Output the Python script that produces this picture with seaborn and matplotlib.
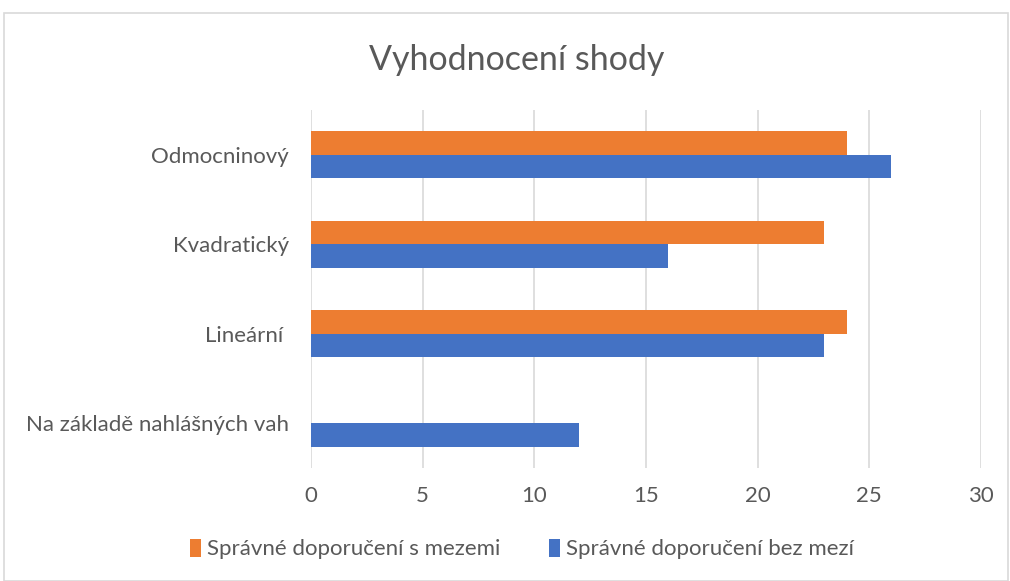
import numpy as np
import pandas as pd
import seaborn as sns
import matplotlib.pyplot as plt
from matplotlib.patches import Rectangle

# data
categories = ["Odmocninový", "Kvadratický", "Lineární ", "Na základě nahlášných vah"]
series_names = ["Správné doporučení s mezemi", "Správné doporučení bez mezí"]
s_mezemi = [24, 23, 24, np.nan]
bez_mezi = [26, 16, 23, 12]
x_ticks = [0, 5, 10, 15, 20, 25, 30]

colors = ["#ED7D31", "#4472C4"]
text_color = "#595959"
grid_color = "#D9D9D9"

df = pd.DataFrame({
    "kategorie": categories * 2,
    "hodnota": s_mezemi + bez_mezi,
    "serie": [series_names[0]] * len(categories) + [series_names[1]] * len(categories),
})

sns.set_style("white")
plt.rcParams["font.family"] = ["Lato", "DejaVu Sans"]

fig = plt.figure(figsize=(10.1, 5.81), dpi=100)
ax = fig.add_axes([0.308, 0.1945, 0.663, 0.6162])

sns.barplot(data=df, x="hodnota", y="kategorie", hue="serie",
            hue_order=series_names, order=categories, palette=colors,
            orient="h", width=0.52, gap=0, ax=ax, legend=True,
            saturation=1, edgecolor="none")

# axes styling
ax.set_xlim(0, 30)
ax.set_ylim(3.5, -0.5)
ax.set_xticks(x_ticks)
ax.set_xticklabels([str(t) for t in x_ticks], fontsize=16, color=text_color)
ax.tick_params(axis="y", labelsize=16, labelcolor=text_color, length=0, pad=16)
ax.tick_params(axis="x", length=0, pad=13)
ax.set_xlabel("")
ax.set_ylabel("")
ax.grid(axis="x", color=grid_color, linewidth=1.2)
ax.set_axisbelow(True)
for s in ax.spines.values():
    s.set_visible(False)

# title
fig.text(0.512, 0.897, "Vyhodnocení shody", ha="center", va="center",
         fontsize=24.5, color=text_color)

# legend at the bottom
handles, labels = ax.get_legend_handles_labels()
ax.legend_.remove()
fig.legend(handles, labels, loc="center", bbox_to_anchor=(0.517, 0.055),
           ncol=2, frameon=False, fontsize=16, labelcolor=text_color,
           handlelength=0.5, handleheight=0.9, handletextpad=0.25,
           columnspacing=2.2)

# chart border
fig.patches.append(Rectangle((4 / 1010, 0), 1 - 6 / 1010, 1 - 13 / 581,
                             transform=fig.transFigure, fill=False,
                             edgecolor=grid_color, linewidth=1.2))

plt.savefig("out.png", dpi=100)
